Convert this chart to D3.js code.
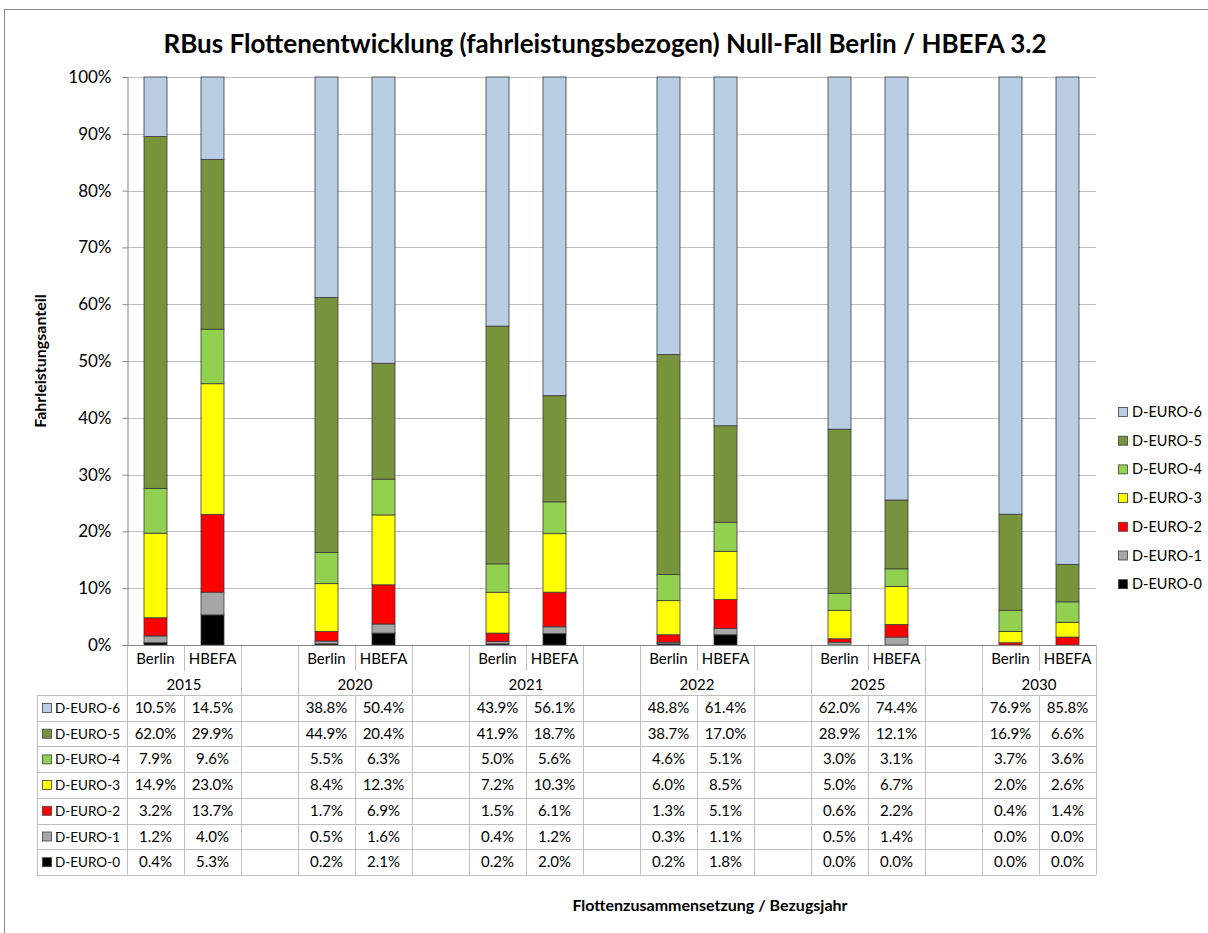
<!DOCTYPE html>
<html>
<head>
<meta charset="utf-8">
<script src="https://cdn.jsdelivr.net/npm/d3@7"></script>
<style>
  body { margin: 0; background: #fff; }
  svg text { font-family: Lato, "Open Sans", sans-serif; fill: #000; }
</style>
</head>
<body>
<div id="chart"></div>
<script>
// Bezugsjahre und Quellen
var years   = ["2015", "2020", "2021", "2022", "2025", "2030"];
var sources = ["Berlin", "HBEFA"];
var keys    = ["D-EURO-0", "D-EURO-1", "D-EURO-2", "D-EURO-3", "D-EURO-4", "D-EURO-5", "D-EURO-6"];
var colors  = ["#000000", "#a6a6a6", "#ff0000", "#ffff00", "#92d050", "#77933c", "#b9cde5"];
var yTicks  = [0, 0.1, 0.2, 0.3, 0.4, 0.5, 0.6, 0.7, 0.8, 0.9, 1];

// Werte in %, Reihenfolge: 2015 Berlin, 2015 HBEFA, 2020 Berlin, ...
var euro6 = [10.5, 14.5, 38.8, 50.4, 43.9, 56.1, 48.8, 61.4, 62.0, 74.4, 76.9, 85.8];
var euro5 = [62.0, 29.9, 44.9, 20.4, 41.9, 18.7, 38.7, 17.0, 28.9, 12.1, 16.9, 6.6];
var euro4 = [7.9, 9.6, 5.5, 6.3, 5.0, 5.6, 4.6, 5.1, 3.0, 3.1, 3.7, 3.6];
var euro3 = [14.9, 23.0, 8.4, 12.3, 7.2, 10.3, 6.0, 8.5, 5.0, 6.7, 2.0, 2.6];
var euro2 = [3.2, 13.7, 1.7, 6.9, 1.5, 6.1, 1.3, 5.1, 0.6, 2.2, 0.4, 1.4];
var euro1 = [1.2, 4.0, 0.5, 1.6, 0.4, 1.2, 0.3, 1.1, 0.5, 1.4, 0.0, 0.0];
var euro0 = [0.4, 5.3, 0.2, 2.1, 0.2, 2.0, 0.2, 1.8, 0.0, 0.0, 0.0, 0.0];
var series = [euro0, euro1, euro2, euro3, euro4, euro5, euro6];

var width = 1208, height = 933;
var plotLeft = 127, plotRight = 1096, plotTop = 77, plotBottom = 645;
var tableLeft = 37, rowH = 25.7, headTop = 645, dataTop = 695;

// Spalten: je Jahr Berlin, HBEFA und eine leere Spalte (ausser beim letzten Jahr)
var columns = [];
years.forEach(function(yr, i) {
	sources.forEach(function(s) { columns.push(yr + "|" + s); });
	if (i < years.length - 1) columns.push(yr + "|gap");
});

var rows = [];
years.forEach(function(yr, i) {
	sources.forEach(function(s, j) {
		var r = { col: yr + "|" + s, year: yr, source: s };
		keys.forEach(function(k, n) { r[k] = series[n][i * 2 + j]; });
		rows.push(r);
	});
});

var x = d3.scaleBand().domain(columns).range([plotLeft, plotRight]).paddingInner(0).paddingOuter(0);
var y = d3.scaleLinear().domain([0, 1]).range([plotBottom, plotTop]);
var color = d3.scaleOrdinal().domain(keys).range(colors);
var stack = d3.stack().keys(keys).offset(d3.stackOffsetExpand);
var stacked = stack(rows);

var svg = d3.select("#chart").append("svg")
	.attr("width", width)
	.attr("height", height);

// Rahmen
svg.append("rect")
	.attr("x", 4.5).attr("y", 9.5)
	.attr("width", width - 3).attr("height", height - 8)
	.attr("fill", "none").attr("stroke", "#8c8c8c");

svg.append("text")
	.attr("x", 605).attr("y", 53)
	.attr("text-anchor", "middle")
	.style("font-size", "26px").style("font-weight", "bold")
	.text("RBus Flottenentwicklung (fahrleistungsbezogen) Null-Fall Berlin / HBEFA 3.2");

// Gitterlinien
svg.append("g").selectAll("line")
	.data(yTicks.slice(1))
	.enter().append("line")
	.attr("x1", plotLeft).attr("x2", plotRight)
	.attr("y1", function(d) { return Math.round(y(d)) + 0.5; })
	.attr("y2", function(d) { return Math.round(y(d)) + 0.5; })
	.attr("stroke", "#bfbfbf");

var yAxis = svg.append("g")
	.attr("transform", "translate(" + (plotLeft + 0.5) + ",0)")
	.call(d3.axisLeft(y).tickValues(yTicks).tickFormat(d3.format(".0%")).tickSize(5).tickPadding(11));
yAxis.select(".domain").attr("stroke", "#868686");
yAxis.selectAll(".tick line").attr("stroke", "#868686");
yAxis.selectAll("text").style("font-size", "17px").style("font-family", "Lato, sans-serif");

svg.append("text")
	.attr("transform", "translate(46," + ((plotTop + plotBottom) / 2) + ") rotate(-90)")
	.attr("text-anchor", "middle")
	.style("font-size", "16px").style("font-weight", "bold")
	.text("Fahrleistungsanteil");

// Balken
var barW = 23;
svg.append("g").selectAll("g")
	.data(stacked)
	.enter().append("g")
	.attr("fill", function(d) { return color(d.key); })
	.selectAll("rect")
	.data(function(d) { return d; })
	.enter().append("rect")
	.attr("x", function(d) { return x(d.data.col) + x.bandwidth() / 2 - barW / 2; })
	.attr("y", function(d) { return y(d[1]); })
	.attr("width", barW)
	.attr("height", function(d) { return y(d[0]) - y(d[1]); })
	.attr("stroke", "#3a3a3a")
	.attr("stroke-width", function(d) { return (y(d[0]) - y(d[1])) > 0.2 ? 0.8 : 0; });

// Tabelle
var tbl = svg.append("g").attr("stroke", "#bfbfbf").attr("fill", "none");
var tableBottom = dataTop + rowH * keys.length;

// horizontale Linien der Datenzeilen
d3.range(keys.length + 1).forEach(function(i) {
	var yy = Math.round(dataTop + i * rowH) + 0.5;
	tbl.append("line").attr("x1", tableLeft).attr("x2", plotRight).attr("y1", yy).attr("y2", yy);
});
tbl.append("line").attr("x1", tableLeft + 0.5).attr("x2", tableLeft + 0.5)
	.attr("y1", dataTop).attr("y2", tableBottom);

// vertikale Linien; zwischen Berlin und HBEFA nicht im Jahres-Feld
columns.forEach(function(c) {
	var x0 = Math.round(x(c)) + 0.5;
	var inner = c.split("|")[1] === "HBEFA";
	if (inner) {
		tbl.append("line").attr("x1", x0).attr("x2", x0).attr("y1", headTop).attr("y2", headTop + 26);
		tbl.append("line").attr("x1", x0).attr("x2", x0).attr("y1", dataTop).attr("y2", tableBottom);
	} else {
		tbl.append("line").attr("x1", x0).attr("x2", x0).attr("y1", headTop).attr("y2", tableBottom);
	}
});
tbl.append("line").attr("x1", plotRight + 0.5).attr("x2", plotRight + 0.5)
	.attr("y1", headTop).attr("y2", tableBottom);

// x-Achse
svg.append("line")
	.attr("x1", plotLeft).attr("x2", plotRight)
	.attr("y1", plotBottom + 0.5).attr("y2", plotBottom + 0.5)
	.attr("stroke", "#868686");

// Kopfzeilen
rows.forEach(function(r) {
	svg.append("text")
		.attr("x", x(r.col) + x.bandwidth() / 2).attr("y", headTop + 19)
		.attr("text-anchor", "middle").style("font-size", "15px")
		.text(r.source);
});
years.forEach(function(yr) {
	svg.append("text")
		.attr("x", x(yr + "|HBEFA")).attr("y", headTop + 45)
		.attr("text-anchor", "middle").style("font-size", "15px")
		.text(yr);
});

// Datenzeilen, oben D-EURO-6
var fmt = d3.format(".1f");
keys.slice().reverse().forEach(function(k, i) {
	var yy = dataTop + i * rowH;
	svg.append("rect")
		.attr("x", tableLeft + 5.5).attr("y", yy + 8.5)
		.attr("width", 9).attr("height", 9)
		.attr("fill", color(k)).attr("stroke", "#404040").attr("stroke-width", 0.8);
	svg.append("text")
		.attr("x", tableLeft + 18).attr("y", yy + 18)
		.style("font-size", "13.5px").text(k);
	rows.forEach(function(r) {
		svg.append("text")
			.attr("x", x(r.col) + x.bandwidth() / 2).attr("y", yy + 18)
			.attr("text-anchor", "middle").style("font-size", "15px")
			.text(fmt(r[k]) + "%");
	});
});

// Legende
var legend = svg.append("g").selectAll("g")
	.data(keys.slice().reverse())
	.enter().append("g")
	.attr("transform", function(d, i) { return "translate(1118," + (407 + i * 28.7) + ")"; });
legend.append("rect")
	.attr("x", 0.5).attr("y", 0.5).attr("width", 9).attr("height", 9)
	.attr("fill", function(d) { return color(d); })
	.attr("stroke", "#404040").attr("stroke-width", 0.8);
legend.append("text")
	.attr("x", 14).attr("y", 10)
	.style("font-size", "14.5px")
	.text(function(d) { return d; });

svg.append("text")
	.attr("x", 710).attr("y", 911)
	.attr("text-anchor", "middle")
	.style("font-size", "16px").style("font-weight", "bold")
	.text("Flottenzusammensetzung / Bezugsjahr");
</script>
</body>
</html>
